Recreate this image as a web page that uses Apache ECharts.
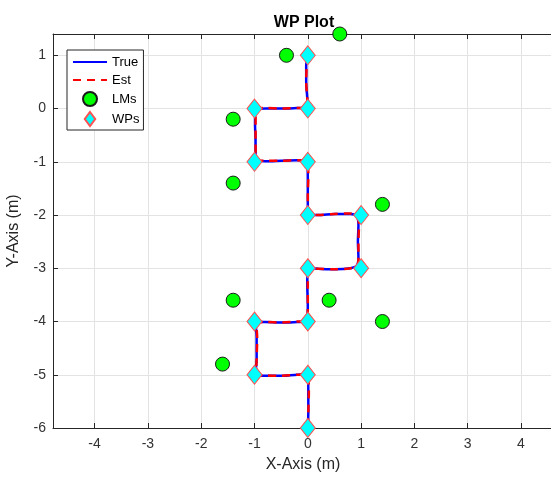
<!DOCTYPE html>
<html style="height: 100%">
<head>
	<meta charset="utf-8">
</head>
<body style="height: 100%; margin: 0; background: #fff">
<div id="container" style="width: 551px; height: 477px"></div>
<script type="text/javascript" src="https://cdn.jsdelivr.net/npm/echarts@6/dist/echarts.min.js"></script>
<script type="text/javascript">
    // waypoints
    var wpX = [0, 0, -1, -1, 0, 0, 1, 1, 0, 0, -1, -1, 0, 0];
    var wpY = [1, 0, 0, -1, -1, -2, -2, -3, -3, -4, -4, -5, -5, -6];

    // landmarks
    var lmX = [0.6, -0.4, -1.4, -1.4, 1.4, -1.4, 0.4, 1.4, -1.6];
    var lmY = [1.4, 1.0, -0.2, -1.4, -1.8, -3.6, -3.6, -4.0, -4.8];

    // true path
    var trueX = [0, -0.03, -0.03, -0.01, 0, -0.2, -0.5, -0.8, -0.98, -0.99, -0.98, -0.98,
        -0.8, -0.5, -0.2, -0.02, 0, 0, 0, 0.2, 0.5, 0.8, 0.92, 0.95, 0.94, 0.95, 0.92,
        0.8, 0.5, 0.2, 0, -0.01, 0, -0.01, -0.2, -0.5, -0.8, -0.98, -0.96, -0.96, -0.98,
        -0.8, -0.5, -0.2, -0.03, 0.01, 0.01, 0];
    var trueY = [1, 0.8, 0.5, 0.2, 0.02, 0.01, 0, 0, -0.02, -0.3, -0.6, -0.95,
        -0.99, -0.98, -0.97, -0.99, -1.3, -1.6, -1.98, -2.0, -1.98, -1.98, -2.02, -2.2, -2.5, -2.8, -2.95,
        -3.0, -3.02, -3.01, -3.0, -3.3, -3.7, -3.98, -4.01, -4.02, -4.01, -4.02, -4.3, -4.7, -4.98,
        -5.02, -5.02, -5.0, -4.98, -5.3, -5.7, -6];

    // estimated path
    var estX = [0, -0.02, -0.03, -0.01, 0, -0.2, -0.5, -0.8, -0.97, -0.98, -0.98, -0.97,
        -0.8, -0.5, -0.2, -0.03, 0.01, 0, 0.01, 0.2, 0.5, 0.8, 0.93, 0.96, 0.95, 0.95, 0.93,
        0.8, 0.5, 0.2, 0.01, 0, 0, -0.02, -0.2, -0.5, -0.8, -0.97, -0.95, -0.96, -0.97,
        -0.8, -0.5, -0.2, -0.02, 0.02, 0.01, 0];
    var estY = [1, 0.8, 0.5, 0.2, 0.01, 0.01, 0, 0.01, -0.02, -0.3, -0.6, -0.95,
        -0.98, -0.98, -0.97, -0.98, -1.3, -1.6, -1.97, -2.0, -1.98, -1.97, -2.02, -2.2, -2.5, -2.8, -2.95,
        -3.0, -3.02, -3.01, -3.01, -3.3, -3.7, -3.98, -4.0, -4.02, -4.01, -4.02, -4.3, -4.7, -4.98,
        -5.01, -5.02, -5.0, -4.98, -5.3, -5.7, -6];

    function pairs(xs, ys) {
        var res = [];
        for (var i = 0; i < xs.length; i++) {
            res.push([xs[i], ys[i]]);
        }
        return res;
    }

    var dom = document.getElementById("container");
    var myChart = echarts.init(dom);
    var font = 'Liberation Sans, Arial, sans-serif';

    var option = {
        backgroundColor: '#fff',
        animation: false,
        title: {
            text: 'WP Plot',
            left: 299,
            top: 10,
            textAlign: 'center',
            textStyle: {fontFamily: font, fontSize: 16, fontWeight: 'bold', color: '#000'}
        },
        legend: {
            orient: 'vertical',
            left: 67,
            top: 50,
            padding: [5, 4, 3, 5],
            itemGap: 4,
            itemWidth: 34,
            itemHeight: 14,
            symbolKeepAspect: true,
            backgroundColor: '#fff',
            borderColor: '#262626',
            borderWidth: 1,
            borderRadius: 0,
            textStyle: {fontFamily: font, fontSize: 13, lineHeight: 14, color: '#000'},
            data: [
                {name: 'True', itemStyle: {opacity: 0}},
                {name: 'Est', itemStyle: {opacity: 0}},
                'LMs',
                {name: 'WPs', icon: 'path://M6,0L12,8L6,16L0,8Z'}
            ]
        },
        grid: {
            left: 53,
            right: -2,
            top: 34,
            bottom: 49,
            containLabel: false,
            outerBoundsMode: 'none'
        },
        xAxis: [{
            type: 'value',
            min: -4.78,
            max: 4.6,
            minInterval: 1,
            maxInterval: 1,
            name: 'X-Axis (m)',
            nameLocation: 'middle',
            nameGap: 29,
            nameTextStyle: {fontFamily: font, fontSize: 16, color: '#262626'},
            axisLine: {onZero: false, lineStyle: {color: '#262626', width: 1}},
            axisTick: {inside: true, length: 5, lineStyle: {color: '#262626'}},
            axisLabel: {fontFamily: font, fontSize: 14, color: '#333', margin: 9,
                showMinLabel: false, showMaxLabel: false},
            splitLine: {show: true, lineStyle: {color: '#e3e3e3', width: 1}}
        }, {
            type: 'value',
            position: 'top',
            min: -4.78,
            max: 4.6,
            minInterval: 1,
            maxInterval: 1,
            axisLine: {onZero: false, lineStyle: {color: '#262626', width: 1}},
            axisTick: {inside: true, length: 5, lineStyle: {color: '#262626'}},
            axisLabel: {show: false},
            splitLine: {show: false}
        }],
        yAxis: {
            type: 'value',
            min: -6,
            max: 1.4,
            interval: 1,
            name: 'Y-Axis (m)',
            nameLocation: 'middle',
            nameGap: 31,
            nameTextStyle: {fontFamily: font, fontSize: 16, color: '#262626'},
            axisLine: {show: true, onZero: false, lineStyle: {color: '#262626', width: 1}},
            axisTick: {show: true, inside: true, length: 5, lineStyle: {color: '#262626'}},
            axisLabel: {fontFamily: font, fontSize: 14, color: '#333', margin: 7,
                showMaxLabel: false},
            splitLine: {show: true, lineStyle: {color: '#e3e3e3', width: 1}}
        },
        series: [
            {
                name: 'True',
                type: 'line',
                data: pairs(trueX, trueY),
                symbol: 'none',
                smooth: 0.3,
                clip: false,
                z: 3,
                itemStyle: {color: '#0000ff'},
                lineStyle: {color: '#0000ff', width: 2.5}
            },
            {
                name: 'Est',
                type: 'line',
                data: pairs(estX, estY),
                symbol: 'none',
                smooth: 0.3,
                clip: false,
                z: 4,
                itemStyle: {color: '#ff0000'},
                lineStyle: {color: '#ff0000', width: 2.5, type: [8, 6]}
            },
            {
                name: 'LMs',
                type: 'scatter',
                data: pairs(lmX, lmY),
                symbol: 'circle',
                symbolSize: 14,
                clip: false,
                z: 5,
                itemStyle: {color: '#00ff00', borderColor: '#1a1a1a', borderWidth: 1, opacity: 1}
            },
            {
                name: 'WPs',
                type: 'scatter',
                data: pairs(wpX, wpY),
                symbol: 'diamond',
                symbolSize: [15, 19],
                clip: false,
                z: 6,
                itemStyle: {color: '#00ffff', borderColor: '#ff5050', borderWidth: 1, opacity: 1}
            }
        ]
    };

    myChart.setOption(option);
</script>
</body>
</html>
